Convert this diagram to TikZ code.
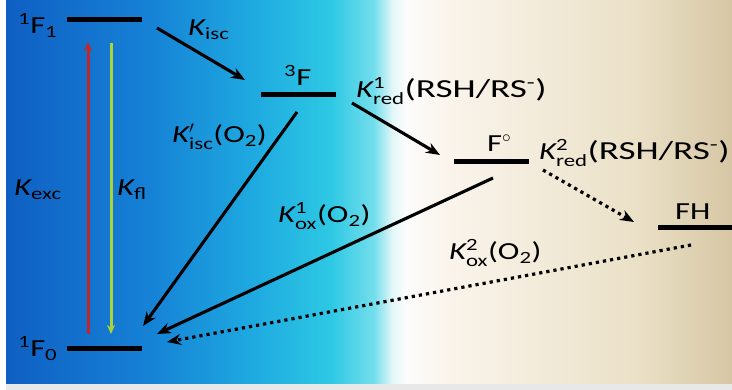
\documentclass[tikz,border=0pt]{standalone}
\usepackage{amsmath}
\usepackage{graphicx}
\usepackage{fontspec}
\setmainfont{Carlito}[FakeStretch=1.33]
\usetikzlibrary{arrows.meta}
\definecolor{c0}{RGB}{15,95,195}
\definecolor{c1}{RGB}{22,130,214}
\definecolor{c2}{RGB}{30,168,224}
\definecolor{c3}{RGB}{45,200,228}
\definecolor{c4}{RGB}{115,222,236}
\definecolor{c5}{RGB}{225,246,248}
\definecolor{c6}{RGB}{252,252,252}
\definecolor{c7}{RGB}{250,244,236}
\definecolor{c8}{RGB}{244,237,222}
\definecolor{c9}{RGB}{234,224,198}
\definecolor{c10}{RGB}{214,198,164}
\definecolor{redarr}{RGB}{190,40,40}
\definecolor{grnarr}{RGB}{170,210,60}
\newcommand{\Kk}[2]{$\textit{K}^{\text{#1}}_{\text{#2}}$}
\newcommand{\Ks}[1]{$\textit{K}_{\text{#1}}$}
\newcommand{\RSH}{\scalebox{1.14}[1.06]{(RSH/RS$^{\text{-}}$)}}
\tikzset{
  lvl/.style={fill=black, minimum width=75pt, minimum height=5pt, inner sep=0pt, draw=none},
  lbl/.style={anchor=base west, inner sep=0pt, font=\fontsize{24.5}{28}\selectfont},
  solidarr/.style={line width=3.1pt, -{Stealth[length=14pt,width=11pt]}},
  dotarr/.style={line width=3.2pt, dash pattern=on 3.2pt off 4pt, -{Stealth[length=14pt,width=11pt]}},
}
\begin{document}
\begin{tikzpicture}[x=1pt,y=-1pt]
\useasboundingbox (0,0) rectangle (732,390);
% background
\fill[white] (0,0) rectangle (732,390);
\fill[black!9] (6,384) rectangle (732,390);
\shade[left color=c0,right color=c1] (6,0) rectangle (150,384);
\shade[left color=c1,right color=c2] (150,0) rectangle (250,384);
\shade[left color=c2,right color=c3] (250,0) rectangle (330,384);
\shade[left color=c3,right color=c4] (330,0) rectangle (374,384);
\shade[left color=c4,right color=c5] (374,0) rectangle (392,384);
\shade[left color=c5,right color=c6] (392,0) rectangle (405,384);
\shade[left color=c6,right color=c7] (405,0) rectangle (445,384);
\shade[left color=c7,right color=c8] (445,0) rectangle (520,384);
\shade[left color=c8,right color=c9] (520,0) rectangle (640,384);
\shade[left color=c9,right color=c10] (640,0) rectangle (732,384);

% levels
\node[lvl] (F1) at (104.5,20) {};
\node[lvl] (F0) at (104.5,349) {};
\node[lvl] (T3) at (298.5,95) {};
\node[lvl] (Fr) at (491.5,162) {};
\node[lvl] (FH) at (695,228) {};

% level labels
\node[lbl] (lF1) at (18,34) {\textsuperscript{1}F$_{\text{1}}$};
\node[lbl] (lF0) at (18,357) {\textsuperscript{1}F$_{\text{0}}$};
\node[lbl] (lT3) at (284,86) {\textsuperscript{3}F};
\node[lbl] (lFr) at (487,152) {F\textsuperscript{$\circ$}};
\node[lbl] (lFH) at (675,220) {FH};

% rate labels
\node[lbl] (lisc) at (188,36) {\Ks{isc}};
\node[lbl] (lisc2) at (172,143) {$\textit{K}^{\prime}_{\text{isc}}$(O$_{\text{2}}$)};
\node[lbl] (lred1) at (356,98) {\Kk{1}{red}\RSH};
\node[lbl] (lred2) at (539,160) {\Kk{2}{red}\RSH};
\node[lbl] (lox1) at (278,223) {\Kk{1}{ox}(O$_{\text{2}}$)};
\node[lbl] (lox2) at (449,260) {\Kk{2}{ox}(O$_{\text{2}}$)};
\node[lbl] (lexc) at (14,196) {\Ks{exc}};
\node[lbl] (lfl) at (117,196) {\Ks{fl}};

% endpoints
\coordinate (isc-s) at (157,28);
\coordinate (isc-e) at (245,80);
\coordinate (isc2-s) at (297,112);
\coordinate (isc2-e) at (143,326);
\coordinate (red1-s) at (352,103);
\coordinate (red1-e) at (440,155);
\coordinate (red2-s) at (543,170);
\coordinate (red2-e) at (634,222);
\coordinate (ox1-s) at (493,178);
\coordinate (ox1-e) at (157,334);
\coordinate (ox2-s) at (691,245);
\coordinate (ox2-e) at (167,342);
\coordinate (exc-s) at (88,334);
\coordinate (exc-e) at (88,42);
\coordinate (fl-s) at (111,43);
\coordinate (fl-e) at (111,334);

% connectors
\draw[solidarr] (isc-s) -- (isc-e);
\draw[solidarr] (isc2-s) -- (isc2-e);
\draw[solidarr] (red1-s) -- (red1-e);
\draw[dotarr] (red2-s) -- (red2-e);
\draw[solidarr] (ox1-s) -- (ox1-e);
\draw[dotarr] (ox2-s) -- (ox2-e);
\draw[redarr, line width=3pt, -{Stealth[length=9pt,width=8pt]}] (exc-s) -- (exc-e);
\draw[grnarr, line width=3pt, -{Stealth[length=9pt,width=8pt]}] (fl-s) -- (fl-e);
\end{tikzpicture}
\end{document}
